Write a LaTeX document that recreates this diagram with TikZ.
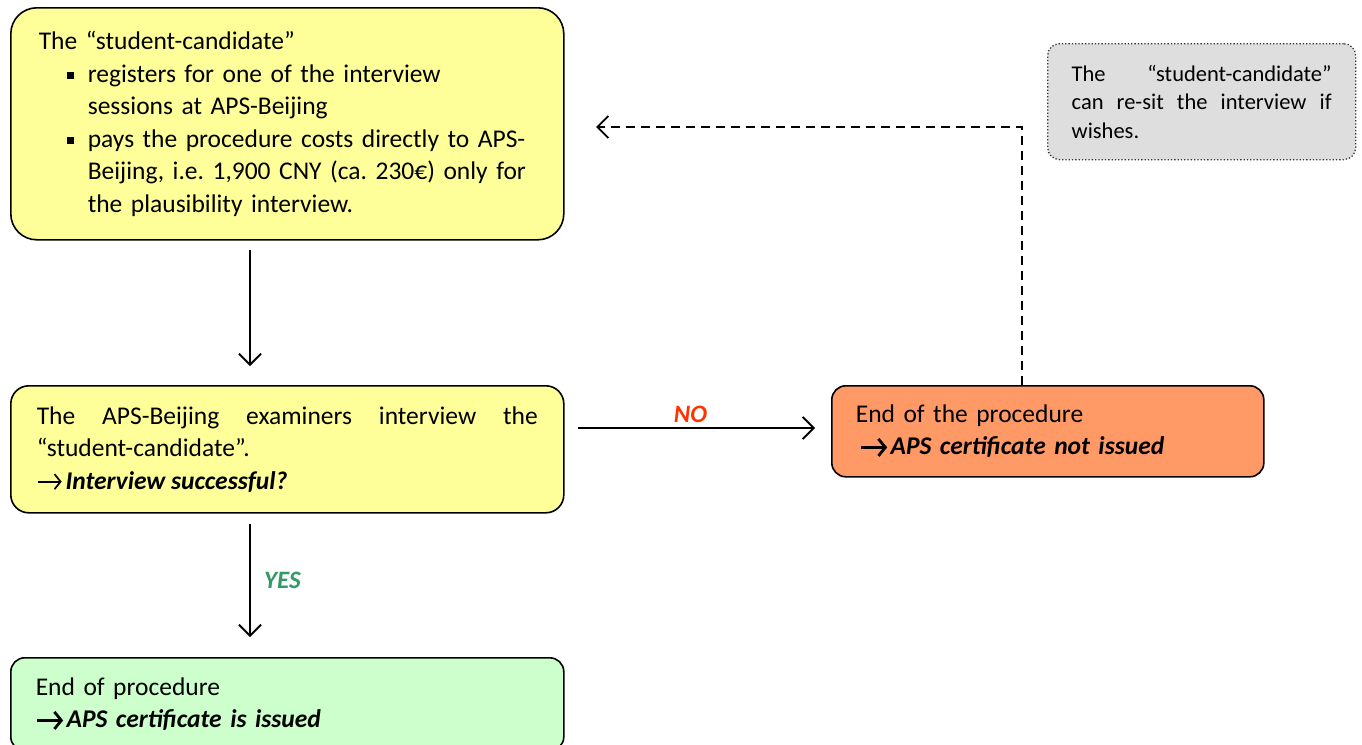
\documentclass[tikz,border=0pt]{standalone}
\usepackage{fontspec}
\setmainfont{Carlito}
\usetikzlibrary{arrows.meta}
\definecolor{boxyellow}{HTML}{FFFF99}
\definecolor{boxorange}{HTML}{FF9966}
\definecolor{boxgreen}{HTML}{CCFFCC}
\definecolor{boxgray}{HTML}{DEDEDE}
\definecolor{yescol}{HTML}{339966}
\definecolor{nocol}{HTML}{FF3300}
\tikzset{
  x=1pt, y=-1pt,
  box/.style={draw=black, line width=1.6pt, rounded corners=18pt, anchor=north west,
    inner xsep=25pt, inner ysep=0pt, font=\fontsize{25.5}{32.5}\selectfont\frenchspacing},
  note/.style={draw=black!80, line width=1.3pt, dotted, rounded corners=12pt, anchor=north west,
    fill=boxgray, inner xsep=24pt, inner ysep=0pt, align=justify,
    font=\fontsize{22.5}{28.5}\selectfont\frenchspacing},
  flow/.style={line width=1.8pt, -{Straight Barb[length=11pt,width=22pt,line width=1.8pt]}},
  lbl/.style={font=\fontsize{25}{28}\selectfont\bfseries\itshape},
}
\newcommand{\myarrow}{\tikz[baseline=0pt]\draw[line width=2.8pt, line cap=butt, -{Straight Barb[length=7pt,width=17pt,line width=2.8pt]}] (0pt,7.5pt) -- (26pt,7.5pt);\hspace{2pt}}
\newcommand{\thinarrow}{\tikz[baseline=0pt]\draw[line width=1.7pt, -{Straight Barb[length=6pt,width=15pt,line width=1.7pt]}] (0pt,7.5pt) -- (24pt,7.5pt);\hspace{3pt}}
\newcommand{\sqbullet}{\rule[3.5pt]{7pt}{7pt}}
\begin{document}
\begin{tikzpicture}
\useasboundingbox (0,0) rectangle (1362,744);
\begin{scope}
\clip (0,0) rectangle (1362,744);
% Box 1
\node[box, fill=boxyellow, rounded corners=26pt, text width=497pt, minimum height=232pt, align=left, inner xsep=28pt] (b1) at (10,7) {%
The “student-candidate”\\
\hspace*{28pt}\sqbullet\hspace{14pt}registers for one of the interview\\
\hspace*{49pt}sessions at APS-Beijing\\
\hspace*{28pt}\sqbullet\hspace{14pt}pays the procedure costs directly to APS-\\
\hspace*{49pt}Beijing, i.e. 1,900 CNY (ca. 230€) only for\\
\hspace*{49pt}the plausibility interview.};
% Box 2
\node[box, fill=boxyellow, text width=501pt, minimum height=127pt, align=justify, inner xsep=26pt] (b2) at (10,385) {%
The APS-Beijing examiners interview the\linebreak
“student-candidate”.\newline
\thinarrow\textbf{\textit{Interview successful?}}};
% Orange box
\node[box, fill=boxorange, rounded corners=14pt, text width=384pt, minimum height=91pt, align=left, inner xsep=24pt] (b3) at (831,385) {%
End of the procedure\\
\hspace*{4pt}\myarrow\textbf{\textit{APS certificate not issued}}};
% Green box
\node[box, fill=boxgreen, rounded corners=14pt, text width=503pt, minimum height=93pt, align=left, inner xsep=25pt] (b4) at (10,657) {%
End of procedure\\
\myarrow\textbf{\textit{APS certificate is issued}}};
% Note box
\node[note, text width=260pt, minimum height=116pt] (n1) at (1047,43) {%
The “student-candidate”\linebreak can re-sit the interview if\linebreak wishes.};
\end{scope}
% connectors
\coordinate (a1s) at (250,248);
\coordinate (a1e) at (250,366);
\draw[flow] (b1.south -| a1s) ++(0,9) -- (a1e);
\coordinate (a2e) at (250,637);
\draw[flow] (b2.south -| a1s) ++(0,10) -- (a2e) node[midway, right=10pt, lbl, text=yescol] (yes) {YES};
\coordinate (a3s) at (578,428);
\coordinate (a3e) at (815,428);
\draw[flow] (a3s) -- (a3e) node[midway, above=1pt, xshift=-6pt, lbl, text=nocol] (no) {NO};
\coordinate (d1) at (1022,127);
\coordinate (d2) at (596,127);
\draw[line width=1.8pt, dash pattern=on 9pt off 6pt, -{Straight Barb[length=11pt,width=22pt,line width=1.8pt]}]
  (b3.north -| d1) -- (d1) -- (d2);
\end{tikzpicture}
\end{document}
